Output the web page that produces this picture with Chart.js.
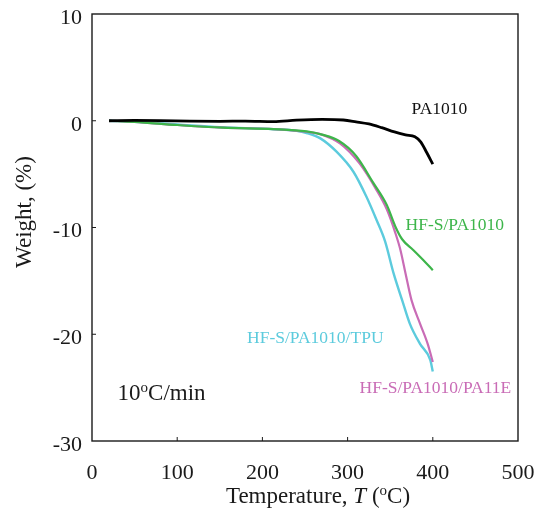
<!DOCTYPE html>
<html>
<head>
<meta charset="utf-8">
<script src="https://cdn.jsdelivr.net/npm/chart.js@4"></script>
<style>
    body { margin: 0; background: #fff; }
    #wrap { width: 537px; height: 508px; }
</style>
</head>
<body>
<div id="wrap"><canvas id="tga-chart"></canvas></div>
<script>
// TGA curves (temperature in oC, weight change in %)
const pa1010T = [20, 50, 80, 115, 150, 180, 213, 240, 270, 295, 310, 325, 340, 355, 368, 379, 386, 393, 400];
const pa1010W = [0, 0.03, 0.02, -0.03, -0.05, -0.03, -0.08, 0.05, 0.12, 0.07, -0.1, -0.3, -0.65, -1.05, -1.32, -1.5, -2.0, -3.0, -4.06];

const hfsT = [20, 50, 100, 154, 213, 252, 270, 290, 310, 330, 346, 356, 364, 377, 389, 400];
const hfsW = [0, -0.1, -0.4, -0.65, -0.78, -1.0, -1.3, -1.9, -3.3, -5.8, -7.9, -9.9, -11.1, -12.1, -13.06, -14.0];

const pa11eT = [20, 50, 100, 154, 213, 252, 268, 291, 314, 334, 346, 356, 362, 368, 375, 385, 394, 400];
const pa11eW = [0, -0.1, -0.4, -0.65, -0.78, -1.03, -1.25, -2.12, -4.0, -6.5, -8.3, -10.5, -12.1, -14.3, -16.8, -19.0, -20.9, -22.6];

const tpuT = [20, 50, 100, 150, 213, 240, 252, 268, 287, 307, 322, 334, 344, 354, 364, 373, 385, 397, 400];
const tpuW = [0, -0.1, -0.35, -0.6, -0.8, -0.95, -1.15, -1.65, -2.9, -4.8, -7.1, -9.3, -11.3, -14.3, -16.8, -19.0, -20.9, -22.4, -23.5];

const xTicks = [0, 100, 200, 300, 400, 500];
const yTicks = [-30, -20, -10, 0, 10];

const serif = "'Liberation Serif', 'DejaVu Serif', serif";

function toPoints(xs, ys) {
    return xs.map((x, i) => ({ x: x, y: ys[i] }));
}

function series(label, xs, ys, color, width) {
    return {
        label: label,
        data: toPoints(xs, ys),
        borderColor: color,
        borderWidth: width,
        pointRadius: 0,
        cubicInterpolationMode: "monotone",
        fill: false
    };
}

// curve labels, placed in data units
const curveLabels = [
    { text: "PA1010", x: 375, y: 1.1, color: "#111111" },
    { text: "HF-S/PA1010", x: 368, y: -9.8, color: "#3db54a" },
    { text: "HF-S/PA1010/TPU", x: 182, y: -20.4, color: "#5ccbdd" },
    { text: "HF-S/PA1010/PA11E", x: 314, y: -25.1, color: "#c96cb6" }
];

// draws a run of text pieces (normal / italic / superscript) from a left x
function drawParts(ctx, x, y, parts) {
    parts.forEach(p => {
        ctx.font = p.font;
        ctx.fillText(p.t, x, y + (p.dy || 0));
        x += ctx.measureText(p.t).width;
    });
}

function partsWidth(ctx, parts) {
    let w = 0;
    parts.forEach(p => { ctx.font = p.font; w += ctx.measureText(p.t).width; });
    return w;
}

const decorations = {
    id: "decorations",
    afterDraw(chart) {
        const ctx = chart.ctx;
        const a = chart.chartArea;
        const xs = chart.scales.x;
        const ys = chart.scales.y;
        ctx.save();

        // frame
        ctx.strokeStyle = "#1a1a1a";
        ctx.lineWidth = 1.4;
        ctx.strokeRect(a.left, a.top, a.right - a.left, a.bottom - a.top);

        // inner ticks
        ctx.lineWidth = 1;
        xTicks.slice(1, -1).forEach(v => {
            const px = xs.getPixelForValue(v);
            ctx.beginPath();
            ctx.moveTo(px, a.bottom);
            ctx.lineTo(px, a.bottom - 4);
            ctx.stroke();
        });
        yTicks.slice(1, -1).forEach(v => {
            const py = ys.getPixelForValue(v);
            ctx.beginPath();
            ctx.moveTo(a.left, py);
            ctx.lineTo(a.left + 4, py);
            ctx.stroke();
        });

        // curve labels
        ctx.textBaseline = "middle";
        ctx.textAlign = "left";
        ctx.font = "17.5px " + serif;
        curveLabels.forEach(l => {
            ctx.fillStyle = l.color;
            ctx.fillText(l.text, xs.getPixelForValue(l.x), ys.getPixelForValue(l.y));
        });

        // heating rate note
        ctx.fillStyle = "#1a1a1a";
        ctx.textBaseline = "alphabetic";
        const big = "23px " + serif;
        const small = "15px " + serif;
        drawParts(ctx, xs.getPixelForValue(30), ys.getPixelForValue(-26.2), [
            { t: "10", font: big },
            { t: "o", font: small, dy: -8 },
            { t: "C/min", font: big }
        ]);

        // x axis title
        const xt = [
            { t: "Temperature, ", font: big },
            { t: "T", font: "italic " + big },
            { t: " (", font: big },
            { t: "o", font: small, dy: -8 },
            { t: "C)", font: big }
        ];
        const w = partsWidth(ctx, xt);
        drawParts(ctx, 318 - w / 2, 503, xt);

        // y axis title
        ctx.translate(25, 212);
        ctx.rotate(-Math.PI / 2);
        ctx.textAlign = "center";
        ctx.textBaseline = "middle";
        ctx.font = big;
        ctx.fillText("Weight, (%)", 0, 0);

        ctx.restore();
    }
};

new Chart(document.getElementById("tga-chart"), {
    type: "line",
    data: {
        datasets: [
            series("PA1010", pa1010T, pa1010W, "#000000", 2.8),
            series("HF-S/PA1010", hfsT, hfsW, "#3db54a", 2.2),
            series("HF-S/PA1010/PA11E", pa11eT, pa11eW, "#c96cb6", 2.2),
            series("HF-S/PA1010/TPU", tpuT, tpuW, "#5ccbdd", 2.4)
        ]
    },
    options: {
        responsive: true,
        maintainAspectRatio: false,
        animation: false,
        layout: { padding: { top: 14, right: 19, left: 0, bottom: 0 } },
        plugins: {
            legend: { display: false },
            tooltip: { enabled: false }
        },
        scales: {
            x: {
                type: "linear",
                min: 0,
                max: 500,
                grid: { display: false, drawTicks: false },
                border: { display: false },
                afterFit: scale => {
                    scale.height = 67;
                    scale.paddingLeft = 0;
                    scale.paddingRight = 0;
                },
                afterBuildTicks: scale => { scale.ticks = xTicks.map(v => ({ value: v })); },
                ticks: {
                    padding: 19,
                    color: "#1a1a1a",
                    font: { family: serif, size: 22 },
                    maxRotation: 0
                }
            },
            y: {
                type: "linear",
                min: -30,
                max: 10,
                grid: { display: false, drawTicks: false },
                border: { display: false },
                afterFit: scale => {
                    scale.width = 92;
                    scale.paddingTop = 0;
                    scale.paddingBottom = 0;
                },
                afterBuildTicks: scale => { scale.ticks = yTicks.map(v => ({ value: v })); },
                ticks: {
                    padding: 10,
                    labelOffset: 4,
                    color: "#1a1a1a",
                    font: { family: serif, size: 22 }
                }
            }
        }
    },
    plugins: [decorations]
});
</script>
</body>
</html>
